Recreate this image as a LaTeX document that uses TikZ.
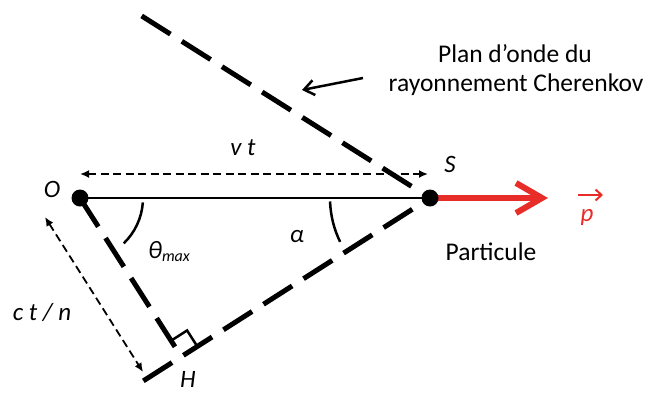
\documentclass[tikz,border=0pt]{standalone}
\usepackage{fontspec}
\setmainfont{Carlito}
\usetikzlibrary{arrows.meta,calc}
\definecolor{pred}{RGB}{232,45,40}
\begin{document}
\begin{tikzpicture}[x=1pt,y=-1pt,
  wave/.style={line width=5pt, dash pattern=on 34pt off 13.5pt},
  meas/.style={line width=1.8pt, dash pattern=on 8pt off 4.5pt,
    {Latex[length=9pt,width=8pt]}-{Latex[length=9pt,width=8pt]}},
  lbl/.style={font=\fontsize{25}{30}\selectfont\itshape, inner sep=0pt, anchor=base},
  txt/.style={font=\fontsize{25.5}{30}\selectfont, inner sep=0pt, anchor=base},
  angarc/.style={line width=2.5pt}
]
\useasboundingbox (0,0) rectangle (647,394);
% points
\coordinate (O) at (80,198);
\coordinate (S) at (430,198);
\coordinate (H) at (181.3,356.7);
\coordinate (U) at (137,13);
\coordinate (E) at (140,383);
\coordinate (P) at (548,198);
% wave fronts
\draw[wave, shorten <=22pt] (S) -- (U);
\draw[wave, shorten <=21pt] (S) -- (E);
\draw[wave] (O) -- (H);
% particle track
\draw[line width=1.8pt] (O) -- (S);
\draw[pred, line width=6pt, -{Straight Barb[length=26pt,width=30pt]}] (S) -- (P);
\fill (O) circle (8.5pt);
\fill (S) circle (8.5pt);
% right angle
\coordinate (hA) at ($(H)!19pt!(O)$);
\coordinate (hB) at ($(H)!19pt!(S)$);
\coordinate (hC) at ($(hA)+(hB)-(H)$);
\draw[line width=2.5pt] (hA) -- (hC) -- (hB);
% angle arcs
\draw[angarc] (O) ++(-4:63pt) arc[start angle=-4, end angle=-46, radius=63pt];
\draw[angarc] (S) ++(182:100pt) arc[start angle=182, end angle=206, radius=100pt];
% measures
\coordinate (vA) at (80,174);
\coordinate (vB) at (428,174);
\draw[meas] (vA) -- (vB);
\coordinate (cA) at (45,217);
\coordinate (cB) at (143,372);
\draw[meas] (cA) -- (cB);
% labels
\node[lbl] (lO) at (52,197) {O};
\node[lbl] (lS) at (450,172) {S};
\node[lbl] (lH) at (188,387) {H};
\node[lbl] (lvt) at (243,155) {v t};
\node[lbl] (lct) at (42,320) {c t / n};
\node[lbl] (lth) at (169,258) {θ\raisebox{-0.3ex}{\fontsize{16}{16}\selectfont max}};
\node[lbl] (lal) at (297,242) {α};
\node[lbl, text=pred] (lp) at (587,221) {p};
\draw[pred, line width=2pt, -{Straight Barb[length=6pt,width=11pt]}] (578,195) -- (603,195);
\node[txt] (lpart) at (491,260) {Particule};
\node[txt] (l1) at (515,62) {Plan d’onde du};
\node[txt] (l2) at (516,91) {rayonnement Cherenkov};
\coordinate (aS) at (363,78);
\coordinate (aT) at (302,90);
\draw[line width=2.5pt, -{Straight Barb[length=10pt,width=15pt]}] (aS) -- (aT);
\end{tikzpicture}
\end{document}
